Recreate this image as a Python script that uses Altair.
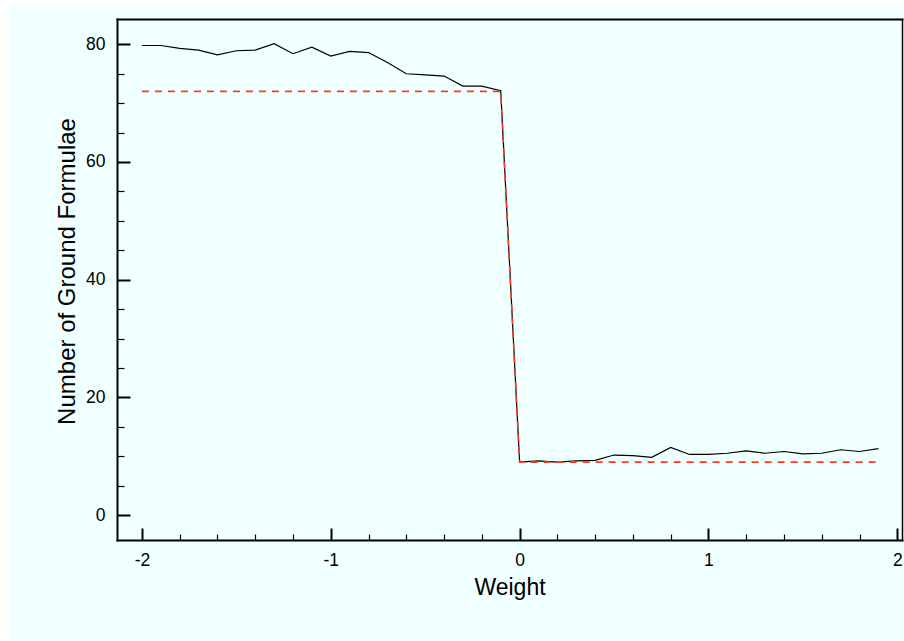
import altair as alt
import pandas as pd

# ---- data ----
weight = [-2.0, -1.9, -1.8, -1.7, -1.6, -1.5, -1.4, -1.3, -1.2, -1.1,
          -1.0, -0.9, -0.8, -0.7, -0.6, -0.5, -0.4, -0.3, -0.2, -0.1,
          0.0, 0.1, 0.2, 0.3, 0.4, 0.5, 0.6, 0.7, 0.8, 0.9,
          1.0, 1.1, 1.2, 1.3, 1.4, 1.5, 1.6, 1.7, 1.8, 1.9]
observed = [79.8, 79.8, 79.3, 79.0, 78.2, 78.9, 79.0, 80.1, 78.4, 79.5,
            78.0, 78.8, 78.6, 76.9, 75.0, 74.8, 74.6, 72.9, 72.9, 72.1,
            9.0, 9.2, 9.0, 9.2, 9.3, 10.2, 10.1, 9.8, 11.5, 10.3,
            10.3, 10.5, 10.9, 10.5, 10.8, 10.4, 10.5, 11.1, 10.8, 11.3]
expected = [72, 72, 72, 72, 72, 72, 72, 72, 72, 72,
            72, 72, 72, 72, 72, 72, 72, 72, 72, 72,
            9, 9, 9, 9, 9, 9, 9, 9, 9, 9,
            9, 9, 9, 9, 9, 9, 9, 9, 9, 9]

x_major = [-2, -1, 0, 1, 2]
x_minor = [-1.8, -1.6, -1.4, -1.2, -0.8, -0.6, -0.4, -0.2,
           0.2, 0.4, 0.6, 0.8, 1.2, 1.4, 1.6, 1.8]
y_major = [0, 20, 40, 60, 80]
y_minor = [5, 10, 15, 25, 30, 35, 45, 50, 55, 65, 70, 75]

x_title = "Weight"
y_title = "Number of Ground Formulae"

df = pd.DataFrame({"weight": weight, "observed": observed, "expected": expected})
bg_df = pd.DataFrame({"k": [0]})

FONT = "Liberation Sans"
W, H = 785, 521
BG = "#f0ffff"

x_scale = alt.Scale(domain=[-2.132, 2.025], nice=False, zero=False)
y_scale = alt.Scale(domain=[-4.24, 84.3], nice=False, zero=False)

LBL = "'' + datum.value"

# main axes with labels and titles (left & bottom frame lines)
ax_x_main = alt.Axis(orient="bottom", values=x_major, ticks=False, tickSize=0,
                     domain=True, domainColor="black", domainWidth=2, domainCap="square",
                     labelExpr=LBL, labelFont=FONT, labelFontSize=17.5, labelColor="black",
                     labelPadding=11, title=x_title, titleFont=FONT, titleFontSize=23,
                     titleFontWeight="normal", titleColor="black", titlePadding=8,
                     grid=False, zindex=1)
ax_y_main = alt.Axis(orient="left", values=y_major, ticks=False, tickSize=0,
                     domain=True, domainColor="black", domainWidth=2, domainCap="square",
                     labelExpr=LBL, labelFont=FONT, labelFontSize=17.5, labelColor="black",
                     labelPadding=12, title=y_title, titleFont=FONT, titleFontSize=24,
                     titleFontWeight="normal", titleColor="black", titlePadding=6,
                     titleY=252, grid=False, zindex=1)

# top & right frame lines
ax_x_top = alt.Axis(orient="top", ticks=False, labels=False, domain=True,
                    domainColor="black", domainWidth=2, domainCap="square",
                    title=None, grid=False, zindex=1)
ax_y_right = alt.Axis(orient="right", ticks=False, labels=False, domain=True,
                      domainColor="black", domainWidth=1.5, domainCap="square",
                      title=None, grid=False, zindex=1)

# inward major ticks
ax_x_major = alt.Axis(orient="top", offset=-H, values=x_major, ticks=True, tickSize=12,
                      tickWidth=2, tickColor="black", labels=False, domain=False,
                      title=None, grid=False, zindex=1)
ax_y_major = alt.Axis(orient="right", offset=-W, values=y_major, ticks=True, tickSize=13,
                      tickWidth=2, tickColor="black", labels=False, domain=False,
                      title=None, grid=False, zindex=1)

# inward minor ticks
ax_x_minor = alt.Axis(orient="top", offset=-H, values=x_minor, ticks=True, tickSize=6,
                      tickWidth=1.2, tickColor="black", labels=False, domain=False,
                      title=None, grid=False, zindex=1)
ax_y_minor = alt.Axis(orient="right", offset=-W, values=y_minor, ticks=True, tickSize=7,
                      tickWidth=1.2, tickColor="black", labels=False, domain=False,
                      title=None, grid=False, zindex=1)

background = alt.Chart(bg_df).mark_rect(color=BG).encode(
    x=alt.value(-107), x2=alt.value(800), y=alt.value(-14), y2=alt.value(621)
)

black_line = alt.Chart(df).mark_line(color="black", strokeWidth=1.2).encode(
    x=alt.X("weight:Q", scale=x_scale, axis=ax_x_main),
    y=alt.Y("observed:Q", scale=y_scale, axis=ax_y_main),
)

red_line = alt.Chart(df).mark_line(color="#ff3a1a", strokeWidth=1.6, strokeDash=[7, 6]).encode(
    x=alt.X("weight:Q", scale=x_scale, axis=ax_x_top),
    y=alt.Y("expected:Q", scale=y_scale, axis=ax_y_right),
)

major_layer = alt.Chart(df).mark_point(opacity=0).encode(
    x=alt.X("weight:Q", scale=x_scale, axis=ax_x_major),
    y=alt.Y("observed:Q", scale=y_scale, axis=ax_y_major),
)

minor_layer = alt.Chart(df).mark_point(opacity=0).encode(
    x=alt.X("weight:Q", scale=x_scale, axis=ax_x_minor),
    y=alt.Y("observed:Q", scale=y_scale, axis=ax_y_minor),
)

chart = alt.layer(background, black_line, red_line, major_layer, minor_layer).resolve_axis(
    x="independent", y="independent"
).properties(
    width=W, height=H,
    autosize=alt.AutoSizeParams(type="none"),
    padding={"left": 117, "top": 19, "right": 2, "bottom": 101},
    background="white",
).configure_view(stroke=None)

chart.save("out.html", embed_options={"renderer": "svg", "actions": False})
